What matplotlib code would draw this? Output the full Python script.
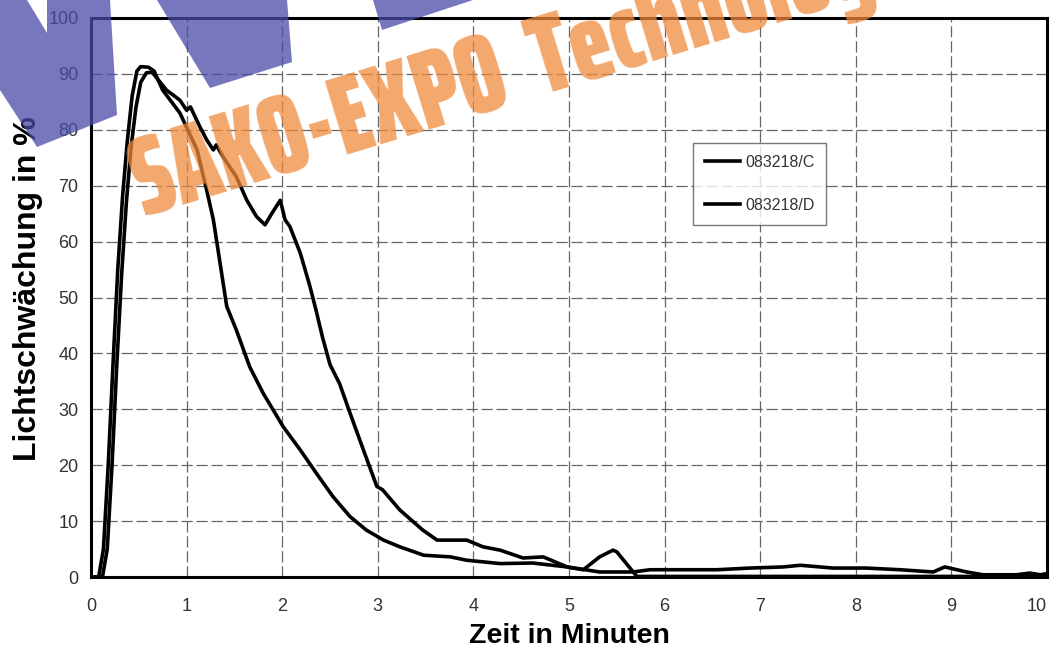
import numpy as np
import matplotlib.pyplot as plt
from matplotlib.patches import Polygon
from matplotlib import font_manager

# curve C: fast decay, long tail to 10 min
t_c = [0.0, 0.08, 0.13, 0.18, 0.23, 0.28, 0.33, 0.38, 0.43, 0.48, 0.52, 0.60, 0.66,
       0.75, 0.93, 1.11, 1.21, 1.28, 1.42, 1.52, 1.66, 1.80, 2.01, 2.19, 2.36, 2.53,
       2.71, 2.88, 3.06, 3.23, 3.48, 3.76, 3.93, 4.28, 4.62, 4.98, 5.32, 5.67, 5.85,
       6.19, 6.55, 6.89, 7.24, 7.42, 7.76, 8.11, 8.46, 8.81, 8.93, 9.16, 9.33, 9.68,
       9.82, 9.93, 10.0]
v_c = [0.0, 0.0, 5, 20, 38, 55, 68, 78, 86, 90.5, 91.3, 91.2, 90.5,
       87.1, 83.0, 76.4, 69.2, 63.9, 48.4, 44.2, 37.6, 32.9, 26.9, 22.7, 18.5, 14.4,
       10.8, 8.4, 6.6, 5.4, 3.9, 3.6, 3.0, 2.4, 2.5, 1.8, 0.9, 0.9, 1.3,
       1.3, 1.3, 1.6, 1.8, 2.1, 1.6, 1.6, 1.3, 0.9, 1.8, 0.9, 0.4, 0.4,
       0.7, 0.4, 0.6]

# curve D: slow decay with shoulder at 2 min
t_d = [0.0, 0.12, 0.17, 0.22, 0.27, 0.32, 0.37, 0.42, 0.47, 0.52, 0.58, 0.64, 0.70,
       0.79, 0.93, 1.00, 1.04, 1.14, 1.21, 1.28, 1.31, 1.38, 1.45, 1.52, 1.63, 1.73,
       1.82, 1.89, 1.98, 2.03, 2.08, 2.19, 2.29, 2.35, 2.42, 2.50, 2.60, 2.71, 2.85,
       2.99, 3.05, 3.23, 3.47, 3.62, 3.93, 4.10, 4.28, 4.52, 4.73, 4.98, 5.15, 5.32,
       5.46, 5.50, 5.71, 10.0]
v_d = [0.0, 0.0, 5, 20, 38, 54, 67, 77, 84, 88.5, 90.2, 90.3, 89.0,
       87.1, 85.3, 83.5, 84.1, 80.5, 78.2, 76.4, 77.3, 75.2, 73.4, 71.6, 67.4, 64.5,
       63.0, 65.0, 67.4, 63.9, 62.7, 57.9, 52.0, 48.0, 43.0, 38.0, 34.6, 29.3, 22.7,
       16.2, 15.6, 12.0, 8.4, 6.6, 6.6, 5.4, 4.8, 3.4, 3.6, 1.8, 1.3, 3.6,
       4.8, 4.5, 0.1, 0.1]

series_names = ["083218/C", "083218/D"]
x_ticks = list(range(0, 11))
y_ticks = list(range(0, 101, 10))

# scan overlay (watermark) shapes, in figure pixels
blue_shapes = [
    [(0, 0), (27, 0), (47, 33), (47, 0), (110, 0), (117, 115), (37, 147), (0, 90)],
    [(157, 0), (287, 0), (292, 62), (210, 88)],
    [(373, 0), (473, 0), (382, 30)],
]
wm_text = "SAKO-EXPO  Technologies"


def condensed_bold():
    found = []
    for f in font_manager.fontManager.ttflist:
        nm = f.name + " " + str(f.stretch)
        if ("ondensed" in nm or "Narrow" in nm) and str(f.weight) in ("bold", "700", "heavy", "black", "800", "900"):
            found.append(f)
    # prefer the heaviest extra-condensed face
    found.sort(key=lambda f: ("Extra" in f.name, str(f.weight) in ("900", "black", "heavy"), f.name), reverse=True)
    return found


W, H = 1052, 651
fig = plt.figure(figsize=(W / 100, H / 100), dpi=100)
ax = fig.add_axes([91 / W, 1 - 577 / H, (1047 - 91) / W, (577 - 18) / H])

ax.plot(t_c, v_c, color="black", lw=2.6, label=series_names[0], zorder=3)
ax.plot(t_d, v_d, color="black", lw=2.6, label=series_names[1], zorder=3)

ax.set_xlim(0, 10)
ax.set_ylim(0, 100)
ax.set_xticks(x_ticks)
ax.set_yticks(y_ticks)
ax.grid(True, color="#666666", lw=0.9, linestyle=(0, (9, 3)))
ax.tick_params(length=0, labelsize=13, colors="#333333")
ax.tick_params(axis="x", pad=15)
ax.tick_params(axis="y", pad=9)
for lab in ax.get_xticklabels() + ax.get_yticklabels():
    lab.set_family("Liberation Sans")
ax.get_xticklabels()[-1].set_ha("right")
for s in ax.spines.values():
    s.set_linewidth(2.2)
    s.set_color("black")

ax.set_xlabel("Zeit in Minuten", fontsize=20.5, fontweight="bold",
              family="Liberation Sans", labelpad=6)
ax.set_ylabel("Lichtschwächung in %", fontsize=23, fontweight="bold",
              family="Liberation Sans")
ax.yaxis.set_label_coords((43 - 91) / 956, 0.515)

leg = ax.legend(loc="upper left", bbox_to_anchor=((693 - 91) / 956, (577 - 143) / 559),
                borderaxespad=0, frameon=True, fancybox=False,
                handlelength=2.2, handletextpad=0.3, labelspacing=1.75,
                borderpad=0.75, prop={"family": "Liberation Sans", "size": 11.5})
leg.get_frame().set_edgecolor("#555555")
leg.get_frame().set_linewidth(1.0)
for txt in leg.get_texts():
    txt.set_color("#333333")

# watermark
cf = condensed_bold()
if cf:
    wm_font = font_manager.FontProperties(fname=cf[0].fname, size=80)
else:
    wm_font = font_manager.FontProperties(family="DejaVu Sans", weight="bold", size=46)
fig.text(143 / W, 1 - 217 / H, wm_text, rotation=17, rotation_mode="anchor",
         ha="left", va="baseline", fontproperties=wm_font,
         color="#f08a3c", alpha=0.75, zorder=10)
for pts in blue_shapes:
    poly = Polygon([(x / W, 1 - y / H) for x, y in pts], closed=True,
                   transform=fig.transFigure, facecolor="#4a4aa8",
                   edgecolor="none", alpha=0.75, zorder=11)
    fig.patches.append(poly)

fig.savefig("out.png", dpi=100)
